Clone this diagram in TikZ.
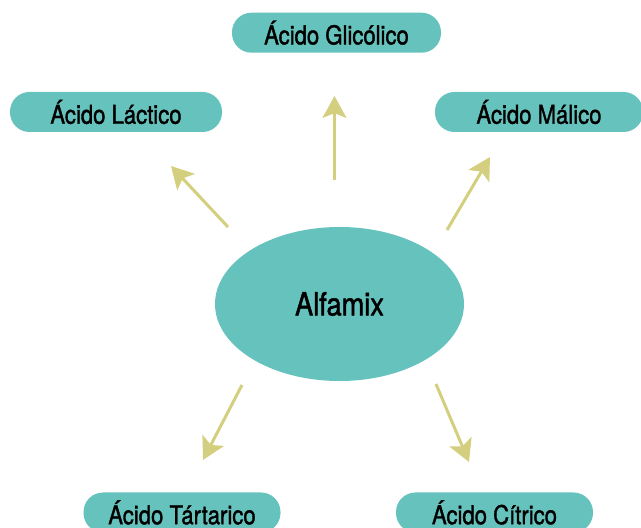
\documentclass[tikz,border=0pt]{standalone}
\usepackage{fontspec}
\setmainfont{TeX Gyre Heros}[FakeStretch=0.85,FakeBold=1.4]
\usepackage{xcolor}
\usetikzlibrary{arrows.meta,shapes.geometric,positioning}
\definecolor{mixteal}{HTML}{66C2BC}
\definecolor{arrowkhaki}{HTML}{D4CF7F}

\begin{document}
\begin{tikzpicture}[x=1pt,y=1pt]
			\tikzset{
				acid box/.style={
						fill=mixteal, draw=none,
						rounded corners=19.5pt,
						minimum height=40pt,
						inner sep=0pt,
						font=\fontsize{26}{30}\selectfont,
					},
				mix blob/.style={
						ellipse, fill=mixteal, draw=none,
						minimum width=249pt, minimum height=154pt,
						font=\fontsize{32}{36}\selectfont,
					},
				feed arrow/.style={
						draw=arrowkhaki, line width=3pt,
						-{Stealth[length=22pt,width=24pt,inset=5pt]},
					},
			}
			\useasboundingbox (0,0) rectangle (641,528);
			%
			\node[mix blob] (mix) at (339.5,224) {Alfamix};
			\node[acid box, minimum width=209pt] (glic) at (336.5,495.3) {Ácido Glicólico};
			\node[acid box, minimum width=212pt] (lact) at (116,416) {Ácido Láctico};
			\node[acid box, minimum width=208pt] (mal) at (539,416) {Ácido Málico};
			\node[acid box, minimum width=197pt] (tart) at (182,15.5) {Ácido Tártarico};
			\node[acid box, minimum width=197pt] (citr) at (494.5,15.5) {Ácido Cítrico};
			%
			\coordinate (g0) at (334.5,348);
			\coordinate (g1) at (334.5,432);
			\coordinate (l0) at (228,301);
			\coordinate (l1) at (171,362);
			\coordinate (m0) at (447,298);
			\coordinate (m1) at (490,371);
			\coordinate (t0) at (242,143);
			\coordinate (t1) at (203,68);
			\coordinate (c0) at (436,144);
			\coordinate (c1) at (469,66);
			%
			\draw[feed arrow] (g0) -- (g1);
			\draw[feed arrow] (l0) -- (l1);
			\draw[feed arrow] (m0) -- (m1);
			\draw[feed arrow] (t0) -- (t1);
			\draw[feed arrow] (c0) -- (c1);
		\end{tikzpicture}
\end{document}
